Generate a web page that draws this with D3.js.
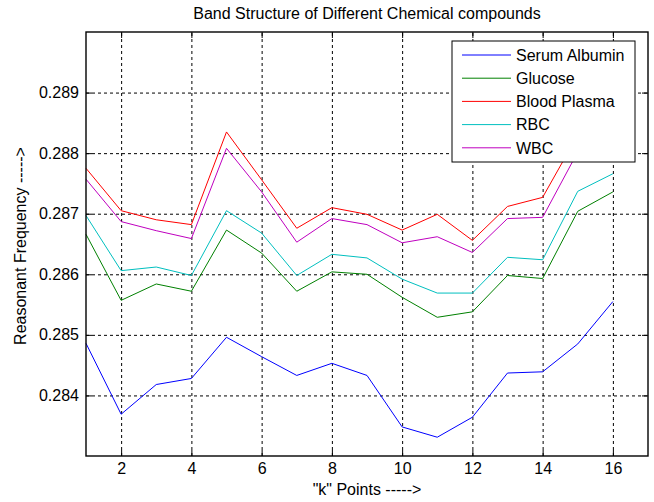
<!DOCTYPE html>
<html>
<head>
<meta charset="utf-8">
<script src="https://cdn.jsdelivr.net/npm/d3@7"></script>
<style>
  body { margin: 0; background: #fff; }
  text { font-family: Arial, "Liberation Sans", sans-serif; fill: #000; }
</style>
</head>
<body>
<div id="chart"></div>
<script>
// Data
var kPoints = [1, 2, 3, 4, 5, 6, 7, 8, 9, 10, 11, 12, 13, 14, 15, 16];
var serumAlbumin = [0.28486, 0.28369, 0.28418, 0.28428, 0.28496, 0.28464, 0.28433, 0.28453,
                    0.28433, 0.28348, 0.28331, 0.28364, 0.28437, 0.28439, 0.28485, 0.28555];
var glucose      = [0.28666, 0.28557, 0.28584, 0.28572, 0.28673, 0.28635, 0.28572, 0.28604,
                    0.28600, 0.28562, 0.28529, 0.28538, 0.28598, 0.28593, 0.28704, 0.28736];
var bloodPlasma  = [0.28775, 0.28705, 0.28690, 0.28682, 0.28835, 0.28756, 0.28676, 0.28710,
                    0.28699, 0.28673, 0.28699, 0.28656, 0.28712, 0.28727, 0.28830, 0.28900];
var rbc          = [0.28697, 0.28606, 0.28612, 0.28598, 0.28705, 0.28668, 0.28598, 0.28633,
                    0.28627, 0.28592, 0.28569, 0.28569, 0.28628, 0.28624, 0.28737, 0.28766];
var wbc          = [0.28757, 0.28687, 0.28672, 0.28659, 0.28808, 0.28736, 0.28653, 0.28692,
                    0.28682, 0.28652, 0.28662, 0.28636, 0.28692, 0.28694, 0.28802, 0.28870];

var seriesNames  = ["Serum Albumin", "Glucose", "Blood Plasma", "RBC", "WBC"];
var seriesColors = ["#0000ff", "#008000", "#ff0000", "#00bfbf", "#bf00bf"];
var xTicks = [2, 4, 6, 8, 10, 12, 14, 16];
var yTicks = [0.284, 0.285, 0.286, 0.287, 0.288, 0.289];

var series = [serumAlbumin, glucose, bloodPlasma, rbc, wbc];

// Set the dimensions and margins of the graph
var margin = {top: 32, right: 6, bottom: 46, left: 86},
    width = 654 - margin.left - margin.right,
    height = 502 - margin.top - margin.bottom;

var svg = d3.select("#chart")
  .append("svg")
    .attr("width", 654)
    .attr("height", 502)
  .append("g")
    .attr("transform", "translate(" + margin.left + "," + margin.top + ")");

var x = d3.scaleLinear().domain([1, 17]).range([0, width]);
var y = d3.scaleLinear().domain([0.283, 0.290]).range([height, 0]);

// Dashed grid
svg.append("g")
    .attr("transform", "translate(0," + height + ")")
    .call(d3.axisBottom(x).tickValues(xTicks).tickSize(-height).tickFormat(""))
    .call(function(g) { g.select(".domain").remove(); })
    .selectAll("line")
      .attr("stroke", "#000")
      .attr("stroke-dasharray", "3,3");

svg.append("g")
    .call(d3.axisLeft(y).tickValues(yTicks).tickSize(-width).tickFormat(""))
    .call(function(g) { g.select(".domain").remove(); })
    .selectAll("line")
      .attr("stroke", "#000")
      .attr("stroke-dasharray", "3,3");

// Series lines
var line = d3.line()
    .x(function(d, i) { return x(kPoints[i]); })
    .y(function(d) { return y(d); });

series.forEach(function(s, i) {
  svg.append("path")
    .datum(s)
    .attr("fill", "none")
    .attr("stroke", seriesColors[i])
    .attr("stroke-width", 1)
    .attr("d", line);
});

// Axes with inward ticks on all four sides
svg.append("g")
    .attr("transform", "translate(0," + height + ")")
    .call(d3.axisBottom(x).tickValues(xTicks).tickSizeInner(-6).tickSizeOuter(0).tickPadding(7))
    .call(function(g) { g.select(".domain").remove(); })
    .selectAll("text")
      .style("font-size", "16px");

svg.append("g")
    .call(d3.axisTop(x).tickValues(xTicks).tickSizeInner(-6).tickSizeOuter(0).tickFormat(""))
    .call(function(g) { g.select(".domain").remove(); });

svg.append("g")
    .call(d3.axisLeft(y).tickValues(yTicks).tickSizeInner(-6).tickSizeOuter(0).tickPadding(7)
      .tickFormat(d3.format(".3f")))
    .call(function(g) { g.select(".domain").remove(); })
    .selectAll("text")
      .style("font-size", "16px");

svg.append("g")
    .attr("transform", "translate(" + width + ",0)")
    .call(d3.axisRight(y).tickValues(yTicks).tickSizeInner(-6).tickSizeOuter(0).tickFormat(""))
    .call(function(g) { g.select(".domain").remove(); });

svg.selectAll(".tick line").filter(function() {
  return d3.select(this).attr("stroke-dasharray") == null;
}).attr("stroke", "#000");

// Frame
svg.append("rect")
    .attr("x", 0)
    .attr("y", 0)
    .attr("width", width)
    .attr("height", height)
    .attr("fill", "none")
    .attr("stroke", "#000")
    .attr("stroke-width", 1.4);

// Legend
var legend = svg.append("g")
    .attr("transform", "translate(" + (452 - margin.left) + "," + (41 - margin.top) + ")");

legend.append("rect")
    .attr("width", 183)
    .attr("height", 121)
    .attr("fill", "#fff")
    .attr("stroke", "#000")
    .attr("stroke-width", 1);

seriesNames.forEach(function(name, i) {
  var ly = 14 + i * 23.2;
  legend.append("line")
    .attr("x1", 10)
    .attr("x2", 59)
    .attr("y1", ly)
    .attr("y2", ly)
    .attr("stroke", seriesColors[i])
    .attr("stroke-width", 1);
  legend.append("text")
    .attr("x", 64)
    .attr("y", ly)
    .attr("dy", "0.36em")
    .style("font-size", "16px")
    .text(name);
});

// Title
svg.append("text")
    .attr("x", width / 2)
    .attr("y", 19 - margin.top)
    .attr("text-anchor", "middle")
    .style("font-size", "16px")
    .text("Band Structure of Different Chemical compounds");

// X-axis title
svg.append("text")
    .attr("x", width / 2)
    .attr("y", 495 - margin.top)
    .attr("text-anchor", "middle")
    .style("font-size", "16px")
    .text("\"k\" Points ----->");

// Y-axis title
svg.append("text")
    .attr("transform", "rotate(-90)")
    .attr("x", -(246 - margin.top))
    .attr("y", 26 - margin.left)
    .attr("text-anchor", "middle")
    .style("font-size", "16px")
    .text("Reasonant Frequency ----->");
</script>
</body>
</html>
